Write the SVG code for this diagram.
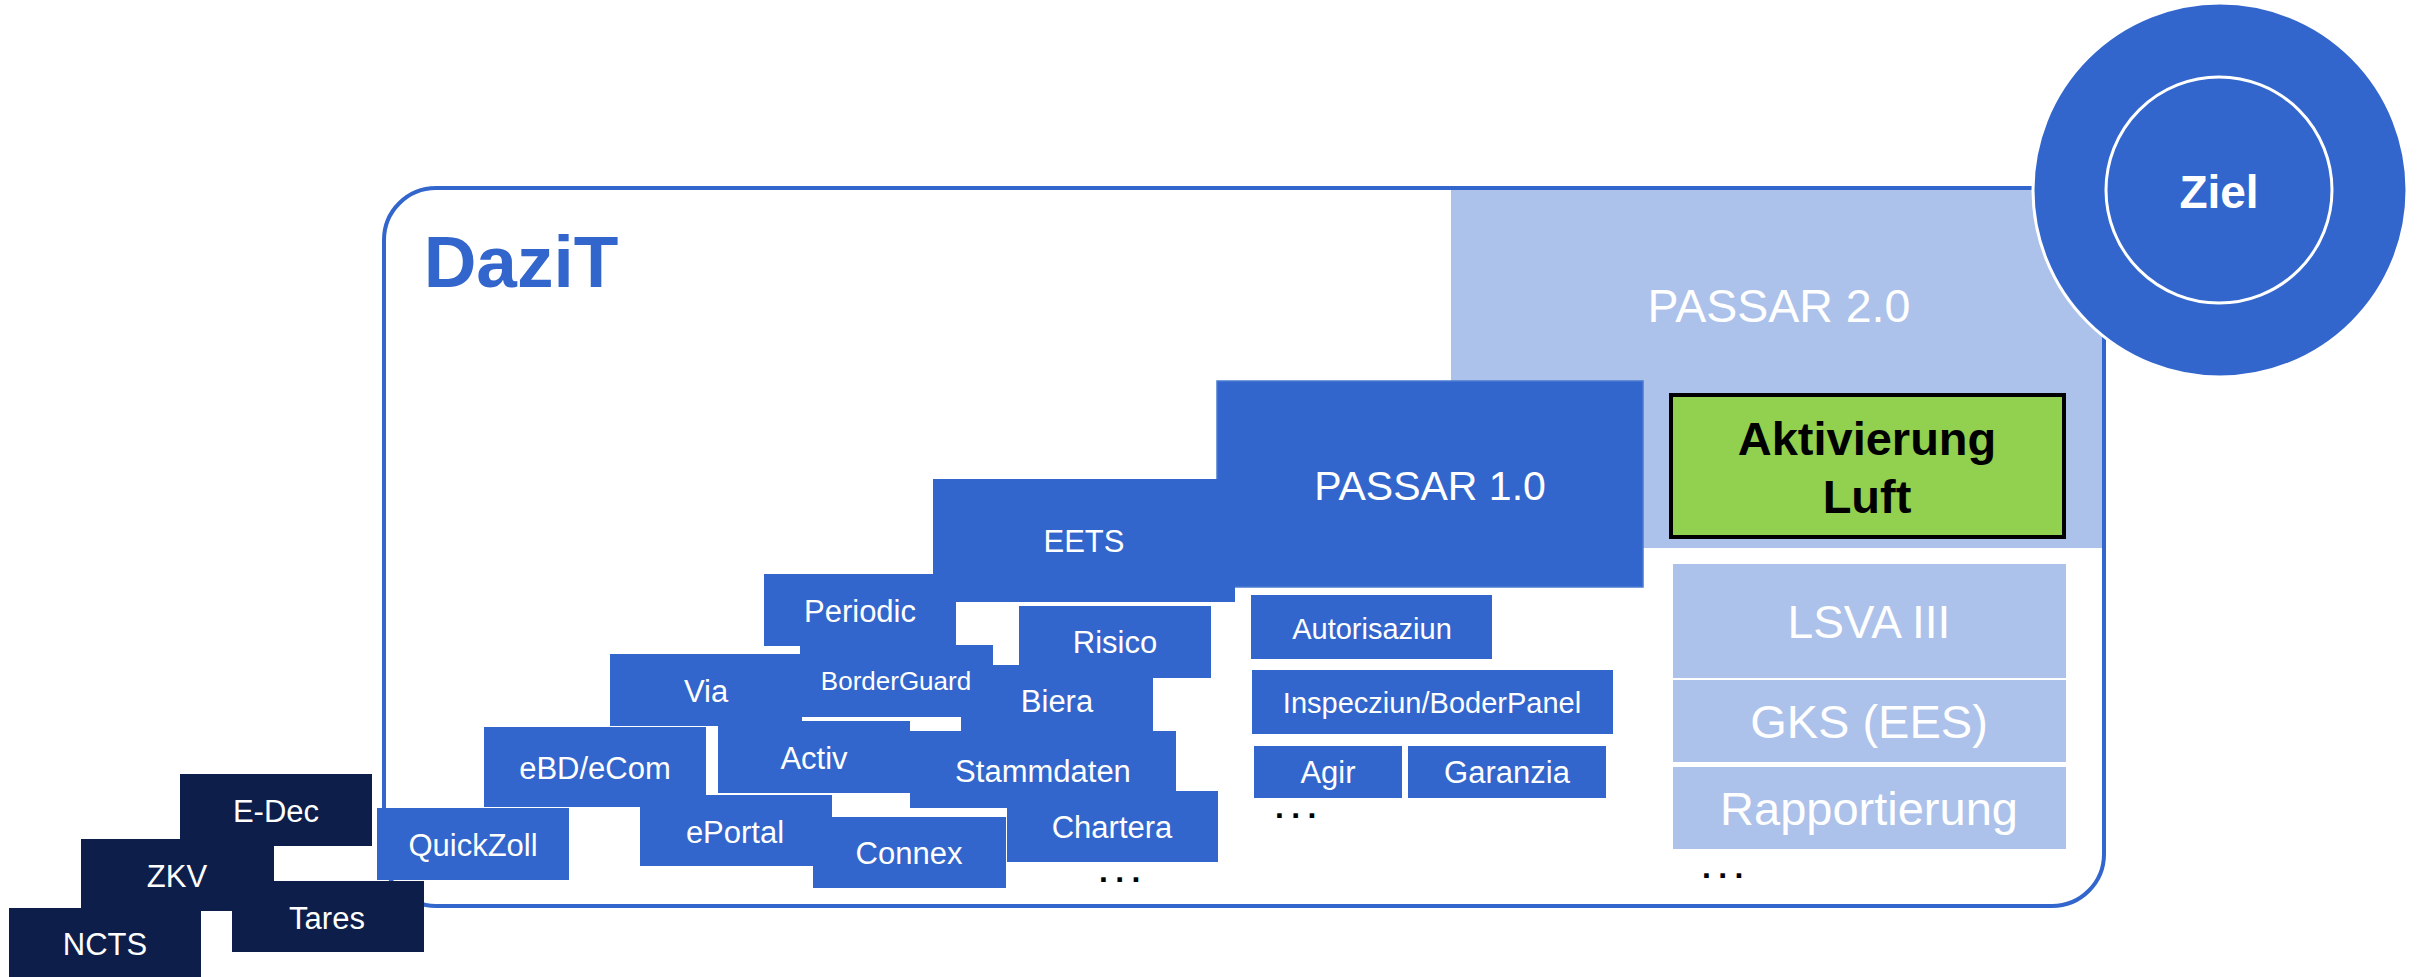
<svg xmlns="http://www.w3.org/2000/svg" width="2427" height="977" viewBox="0 0 2427 977">
<style>
text{font-family:"Liberation Sans",Arial,sans-serif;text-anchor:middle}
.b{fill:#3366CC}
.n{fill:#0D1E4B}
.l{fill:#ADC2EA}
.t{fill:#FFFFFF;font-size:31px}
.dots{fill:#000000;font-size:32px;font-weight:bold;text-anchor:start;letter-spacing:7.3px}
</style>
<rect width="2427" height="977" fill="#FFFFFF"/>
<g id="passar20">
<rect class="l" x="1451" y="190" width="652" height="358"/>
<text x="1779" y="322" fill="#FFFFFF" font-size="46.5">PASSAR 2.0</text>
</g>
<g id="dazit">
<rect x="384" y="188" width="1720" height="718" rx="52" ry="52" fill="none" stroke="#3366CC" stroke-width="4"/>
<text x="521" y="287" fill="#3366CC" font-size="73" font-weight="bold">DaziT</text>
</g>
<g id="passar10">
<rect class="b" x="1217" y="381" width="426" height="206" stroke="#4A7AD0" stroke-width="1.5"/>
<text class="t" x="1430" y="500" style="font-size:41px">PASSAR 1.0</text>
</g>
<g id="eets">
<rect class="b" x="933" y="479" width="302" height="123"/>
<text class="t" x="1084" y="552">EETS</text>
</g>
<g id="biera">
<rect class="b" x="961" y="665" width="192" height="72"/>
<text class="t" x="1057" y="712">Biera</text>
</g>
<g id="borderguard">
<rect class="b" x="800" y="645" width="193" height="72"/>
<text class="t" x="896" y="690" style="font-size:26px">BorderGuard</text>
</g>
<g id="periodic">
<rect class="b" x="764" y="574" width="192" height="72"/>
<text class="t" x="860" y="622">Periodic</text>
</g>
<g id="activ">
<rect class="b" x="718" y="721" width="192" height="72"/>
<text class="t" x="814" y="769">Activ</text>
</g>
<g id="via">
<rect class="b" x="610" y="654" width="192" height="72"/>
<text class="t" x="706" y="702">Via</text>
</g>
<g id="ebd">
<rect class="b" x="484" y="727" width="222" height="80"/>
<text class="t" x="595" y="779">eBD/eCom</text>
</g>
<g id="risico">
<rect class="b" x="1019" y="606" width="192" height="72"/>
<text class="t" x="1115" y="653">Risico</text>
</g>
<g id="stammdaten">
<rect class="b" x="910" y="731" width="266" height="77"/>
<text class="t" x="1043" y="782">Stammdaten</text>
</g>
<g id="eportal">
<rect class="b" x="640" y="795" width="192" height="71"/>
<text class="t" x="735" y="843">ePortal</text>
</g>
<g id="chartera">
<rect class="b" x="1007" y="791" width="211" height="71"/>
<text class="t" x="1112" y="838">Chartera</text>
</g>
<g id="connex">
<rect class="b" x="813" y="817" width="193" height="71"/>
<text class="t" x="909" y="864">Connex</text>
</g>
<g id="quickzoll">
<rect class="b" x="377" y="808" width="192" height="72"/>
<text class="t" x="473" y="856">QuickZoll</text>
</g>
<g id="autorisaziun">
<rect class="b" x="1251" y="595" width="241" height="64"/>
<text class="t" x="1372" y="639" style="font-size:29px">Autorisaziun</text>
</g>
<g id="inspecziun">
<rect class="b" x="1252" y="670" width="361" height="64"/>
<text class="t" x="1432" y="713" style="font-size:29px">Inspecziun/BoderPanel</text>
</g>
<g id="agir">
<rect class="b" x="1254" y="746" width="148" height="52"/>
<text class="t" x="1328" y="783">Agir</text>
</g>
<g id="garanzia">
<rect class="b" x="1408" y="746" width="198" height="52"/>
<text class="t" x="1507" y="783">Garanzia</text>
</g>
<g id="aktivierung">
<rect x="1671" y="395" width="393" height="142" fill="#92D050" stroke="#000000" stroke-width="4"/>
<text x="1867" y="455" fill="#000000" font-size="47" font-weight="bold">Aktivierung</text>
<text x="1867" y="513" fill="#000000" font-size="47" font-weight="bold">Luft</text>
</g>
<g id="lsva">
<rect class="l" x="1673" y="564" width="393" height="114"/>
<text x="1869" y="638" fill="#FFFFFF" font-size="46">LSVA III</text>
</g>
<g id="gks">
<rect class="l" x="1673" y="680" width="393" height="82"/>
<text x="1869" y="738" fill="#FFFFFF" font-size="47">GKS (EES)</text>
</g>
<g id="rapportierung">
<rect class="l" x="1673" y="767" width="393" height="82"/>
<text x="1869" y="825" fill="#FFFFFF" font-size="47">Rapportierung</text>
</g>
<g id="edec">
<rect class="n" x="180" y="774" width="192" height="72"/>
<text class="t" x="276" y="822">E-Dec</text>
</g>
<g id="zkv">
<rect class="n" x="81" y="839" width="193" height="72"/>
<text class="t" x="177" y="887">ZKV</text>
</g>
<g id="tares">
<rect class="n" x="232" y="881" width="192" height="71"/>
<text class="t" x="327" y="929">Tares</text>
</g>
<g id="ncts">
<rect class="n" x="9" y="908" width="192" height="72"/>
<text class="t" x="105" y="955">NCTS</text>
</g>
<g id="ziel">
<circle cx="2220" cy="190" r="187" fill="#3366CC" stroke="#FFFFFF" stroke-width="3"/>
<circle cx="2219" cy="190" r="113" fill="#3366CC" stroke="#FFFFFF" stroke-width="3"/>
<text x="2219" y="208" fill="#FFFFFF" font-size="46" font-weight="bold">Ziel</text>
</g>
<g id="ellipses">
<text class="dots" x="1099" y="882">...</text>
<text class="dots" x="1275" y="818">...</text>
<text class="dots" x="1702" y="878">...</text>
</g>
<g id="connectors"></g>
</svg>
